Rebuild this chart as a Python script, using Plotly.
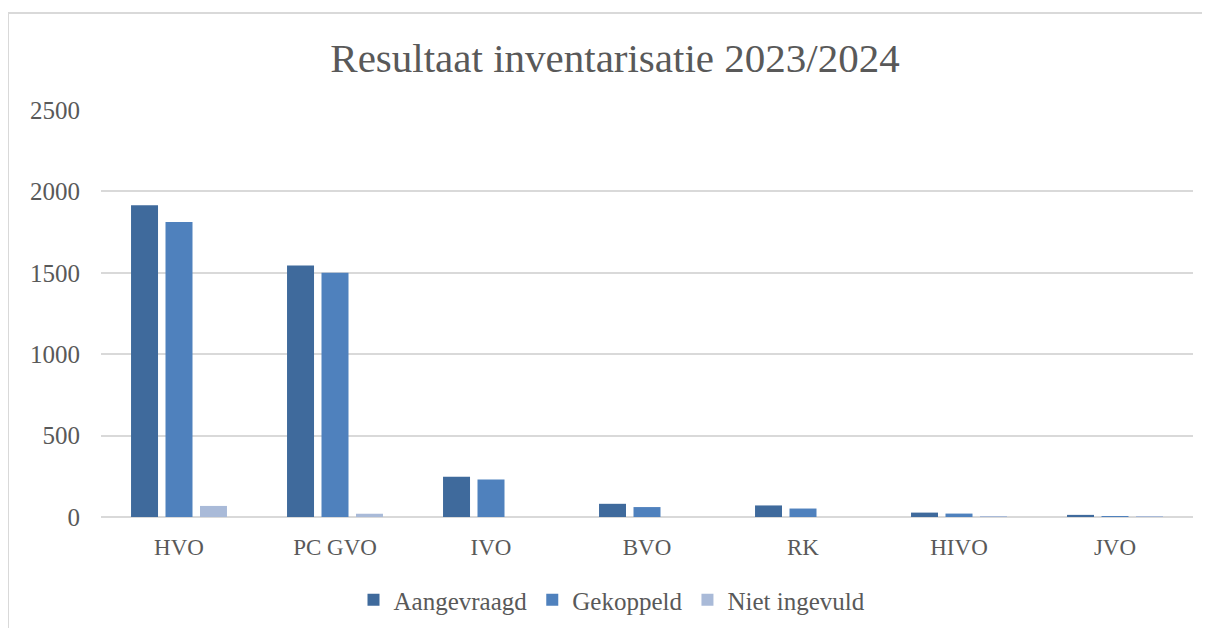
import plotly.graph_objects as go

categories = ["HVO", "PC GVO", "IVO", "BVO", "RK", "HIVO", "JVO"]
aangevraagd = [1915, 1545, 247, 81, 71, 27, 13]
gekoppeld = [1812, 1500, 230, 61, 52, 21, 6]
niet_ingevuld = [68, 20, 0, 0, 0, 4, 3]

series_names = ["Aangevraagd", "Gekoppeld", "Niet ingevuld"]
series_values = [aangevraagd, gekoppeld, niet_ingevuld]
colors = ["#3F6A9C", "#4F81BD", "#A9BAD8"]

FONT = "Liberation Serif"
TXT = "#595959"
OFF = 8  # page body margin

W, H = 1210, 628
L, R, T, B = 101 - OFF, 17 + OFF, 110 - OFF, 628 - 517 + OFF
PW = W - L - R
PH = H - T - B

fig = go.Figure()
for name, vals, col in zip(series_names, series_values, colors):
    fig.add_trace(go.Bar(x=categories, y=vals, name=name, marker_color=col,
                         marker_line_width=0))

fig.update_layout(
    width=W, height=H,
    paper_bgcolor="white", plot_bgcolor="white",
    margin=dict(l=L, r=R, t=T, b=B, autoexpand=False),
    barmode="group", bargap=0.337, bargroupgap=0.217,
    font=dict(family=FONT, color=TXT, size=23),
    title=dict(text="Resultaat inventarisatie 2023/2024", x=(615 - OFF) / W, xanchor="center",
               y=1 - (58 - OFF) / H, yanchor="middle",
               font=dict(family=FONT, size=41, color=TXT)),
    legend=dict(orientation="h", xref="container", yref="container",
                x=(612 - OFF) / W, xanchor="center",
                y=1 - (600 - OFF) / H, yanchor="middle",
                font=dict(family=FONT, size=25, color=TXT),
                itemwidth=30, tracegroupgap=0),
    showlegend=True,
)
fig.update_yaxes(range=[0, 2500], dtick=500, showgrid=True, gridcolor="#D9D9D9",
                 gridwidth=1.5, zeroline=True, zerolinecolor="#D9D9D9", zerolinewidth=1.5,
                 showline=False, ticks="", ticklabelstandoff=20, automargin=False,
                 tickfont=dict(family=FONT, size=25, color=TXT))
fig.update_xaxes(showline=False, ticks="", ticklabelstandoff=14, automargin=False,
                 tickfont=dict(family=FONT, size=23, color=TXT))

fig.add_shape(type="rect", xref="paper", yref="paper",
              x0=(8 - 101) / PW, x1=(1225 - 101) / PW,
              y0=(517 - 650) / PH, y1=(517 - 13) / PH,
              line=dict(color="#D9D9D9", width=2), fillcolor="rgba(0,0,0,0)", layer="below")

fig.write_html("out.html")
